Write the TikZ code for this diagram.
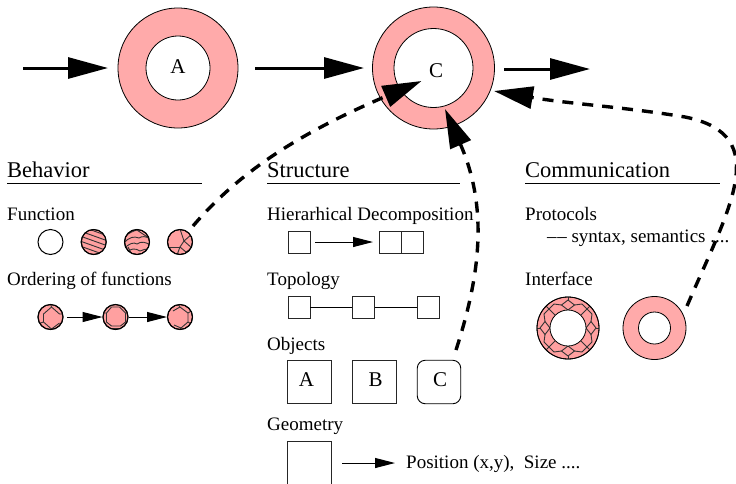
\documentclass[tikz,border=0pt]{standalone}
\usepackage{fontspec}
\setmainfont{Liberation Serif}
\usetikzlibrary{arrows.meta}
\definecolor{ringpink}{RGB}{255,160,160}
\definecolor{ringtop}{RGB}{255,170,170}
\tikzset{
 lbl/.style={anchor=base west,inner sep=0pt,font=\fontsize{19}{22}\selectfont},
 head/.style={anchor=base west,inner sep=0pt,font=\fontsize{22.5}{26}\selectfont},
 big letter/.style={inner sep=0pt,font=\fontsize{21}{24}\selectfont},
 ring/.style={circle,draw=black,line width=0.8pt,fill=ringtop,inner sep=0pt,minimum size=#1},
 hole/.style={circle,draw=black,line width=0.8pt,fill=white,inner sep=0pt,minimum size=#1},
 small/.style={circle,draw=black,line width=1pt,fill=ringpink,inner sep=0pt,minimum size=25pt},
 box/.style={draw=black!85,line width=0.9pt,fill=white,inner sep=0pt,minimum size=#1},
 big/.style={line width=3pt,-{Triangle[length=40pt,width=21pt]}},
 dashbig/.style={line width=3.4pt,dash pattern=on 11pt off 9pt,-{Triangle[length=39pt,width=22pt]}},
 thin/.style={line width=1pt,-{Triangle[length=20pt,width=10pt]}},
 plain/.style={line width=0.9pt},
 tex/.style={line width=0.9pt,draw=black!80},
}
\begin{document}
\begin{tikzpicture}[x=1pt,y=-1pt]
\useasboundingbox (0,0) rectangle (736,483);
% top rings
\node[ring=120pt] (ra) at (178,68) {};
\node[hole=64pt] (ia) at (178,68) {};
\node[big letter] (la) at (178,67) {A};
\node[ring=122pt] (rc) at (433.5,68) {};
\node[hole=79pt] (ic) at (433.5,68) {};
\node[big letter] (lc) at (436,71) {C};
\coordinate (s1) at (23,68);
\coordinate (e1) at (108,68);
\coordinate (s2) at (255,68);
\coordinate (e2) at (364,68);
\coordinate (s3) at (504,69);
\coordinate (e3) at (590,69);
\draw[big] (s1) -- (e1);
\draw[big] (s2) -- (e2);
\draw[big] (s3) -- (e3);
% headings
\node[head] (hb) at (7,177) {Behavior};
\node[head] (hs) at (267,177) {Structure};
\node[head] (hc) at (525,177) {Communication};
\draw[plain] (7,183) -- (202,183);
\draw[plain] (267,183) -- (460,183);
\draw[plain] (525,183) -- (720,183);
% behavior
\node[lbl] (tf) at (7,220) {Function};
\node[lbl] (to) at (7,285) {Ordering of functions};
\node[small,fill=white] (f1) at (50.5,242) {};
\node[small] (f2) at (93.7,242) {};
\begin{scope}
\clip (f2) circle (12.5);
\foreach \d in {-11,-6,-1,4,9,14}{\draw[tex] (80,242+\d-5) -- (108,242+\d+5);}
\end{scope}
\node[small,fill=none] at (f2) {};
\node[small] (f3) at (137,242) {};
\begin{scope}[shift={(137,242)}]
\clip (0,0) circle (12.5);
\draw[tex] (-13,-5) .. controls (-8,-9) and (-4,-11) .. (0,-12) .. controls (4,-9) and (8,-7) .. (13,-3);
\draw[tex] (-13,1) .. controls (-8,-5) and (-3,-6) .. (2,-4) .. controls (5,-6) and (9,-6) .. (13,-3);
\draw[tex] (-13,7) .. controls (-8,1) and (-3,0) .. (0,2) .. controls (4,-1) and (9,0) .. (13,3);
\draw[tex] (-11,11) .. controls (-6,6) and (-2,6) .. (3,9) .. controls (6,7) and (9,7) .. (13,8);
\draw[tex] (-9,5) -- (-5,13);
\end{scope}
\node[small,fill=none] at (f3) {};
\node[small] (f4) at (180,242) {};
\begin{scope}[shift={(180,242)}]
\clip (0,0) circle (12.5);
\draw[tex] (0,-13) -- (4,-1) -- (12,-8);
\draw[tex] (4,-1) -- (12,6) -- (6,10) -- (0,5) -- cycle;
\draw[tex] (0,5) -- (-13,5);
\draw[tex] (0,5) -- (-3,13);
\draw[tex] (6,10) -- (8,13);
\end{scope}
\node[small,fill=none] at (f4) {};
\node[small] (o1) at (50.5,317) {};
\begin{scope}[shift={(50.5,317)}]
\clip (0,0) circle (12.5);
\draw[tex] (0,-13) -- (1,-10) -- (-7,-3) -- (-7,5) -- (1,12) -- (2,13);
\draw[tex] (1,-10) -- (9,-3) -- (13,-3);
\draw[tex] (-7,5) -- (-13,7);
\draw[tex] (1,12) -- (9,6);
\end{scope}
\node[small,fill=none] at (o1) {};
\node[small] (o2) at (115.5,317) {};
\begin{scope}[shift={(115.5,317)}]
\clip (0,0) circle (12.5);
\draw[tex] (-13,-4) -- (-9,-4) -- (-4,-10) -- (4,-10) -- (10,-4) -- (13,-4);
\draw[tex] (-9,-4) -- (-9,5) -- (-4,9) -- (5,9) -- (10,5) -- (10,-4);
\draw[tex] (-5,11) -- (6,11);
\end{scope}
\node[small,fill=none] at (o2) {};
\node[small] (o3) at (180,317) {};
\begin{scope}[shift={(180,317)}]
\clip (0,0) circle (12.5);
\draw[tex] (-2,-13) -- (0,-10) -- (8,-4) -- (8,5) -- (1,11) -- (-1,13);
\draw[tex] (8,-4) -- (13,-7);
\draw[tex] (8,5) -- (13,8);
\draw[tex] (0,-10) -- (-7,-6);
\draw[tex] (1,11) -- (-6,8);
\end{scope}
\node[small,fill=none] at (o3) {};
\coordinate (oa1) at (67,317);
\draw[thin] (oa1) -- (o2.west);
\draw[thin] (o2.east) -- (o3.west);
% structure
\node[lbl] (th) at (267,220) {Hierarhical Decomposition};
\node[box=22pt] (h1) at (299,242) {};
\node[box=22pt] (h2) at (390.5,242) {};
\node[box=22pt] (h3) at (412.5,242) {};
\coordinate (ha) at (315,242);
\coordinate (hb2) at (373,242);
\draw[thin] (ha) -- (hb2);
\node[lbl] (tt) at (267,285) {Topology};
\node[box=22pt] (t1) at (299,307) {};
\node[box=22pt] (t2) at (363.5,307) {};
\node[box=22pt] (t3) at (428,307) {};
\draw[plain] (t1) -- (t2);
\draw[plain] (t2) -- (t3);
\node[lbl] (tobj) at (267,350) {Objects};
\node[box=43.5pt] (oa) at (309.5,382) {};
\node[box=43.5pt] (ob) at (374.5,382) {};
\node[box=43.5pt,rounded corners=8pt,draw=black] (oc) at (439,382) {};
\node[big letter] (loa) at (306.5,380) {A};
\node[big letter] (lob) at (375.5,380) {B};
\node[big letter] (loc) at (440,380) {C};
\node[lbl] (tg) at (267,430) {Geometry};
\node[box=43.5pt] (g) at (309.5,463) {};
\coordinate (gs) at (342,463);
\coordinate (ge) at (395,463);
\node[lbl] (pos) at (406,468) {Position (x,y),\ \ Size ....};
\draw[thin] (gs) -- (ge);
% communication
\node[lbl] (tp) at (525,220) {Protocols};
\node[lbl] (ts) at (547,242) {--\kern0.6pt-- syntax, semantics ....};
\node[lbl] (ti) at (525,285) {Interface};
\node[ring=62pt,fill=ringpink] (i1) at (568,328) {};
\begin{scope}[shift={(568,328)}]
\clip (0,0) circle (31);
\foreach \a in {0,90,180,270}{
 \begin{scope}[rotate=\a]
 \draw[tex] (18,0) -- (23,6.5) -- (28,0) -- (23,-6.5) -- cycle;
 \draw[tex] (28,0) -- (33,0);
 \draw[tex] (23,6.5) -- (24,14) -- (14,24) -- (6.5,23);
 \draw[tex] (19,19) -- (25,25);
 \draw[tex] (19,19) -- (13,13);
 \end{scope}}
\end{scope}
\node[ring=62pt,fill=none] at (i1) {};
\node[hole=36pt] (i1h) at (568,328) {};
\node[ring=63pt] (i2) at (654.5,328) {};
\node[hole=32pt] (i2h) at (654.5,328) {};
% dashed
\coordinate (d1s) at (193,226);
\coordinate (d1e) at (421.5,81);
\coordinate (d2s) at (456,350);
\coordinate (d2e) at (445,109);
\coordinate (d3s) at (687,306);
\coordinate (d3e) at (494,91);
\coordinate (d3m) at (685,117);
\draw[dashbig] (d1s) .. controls (245,165) and (312,128) .. (d1e);
\draw[dashbig] (d2s) .. controls (482,270) and (487,205) .. (d2e);
\draw[dashbig] (d3s) .. controls (728,210) and (775,135) .. (d3m) .. controls (625,107) and (570,104) .. (d3e);
\end{tikzpicture}
\end{document}
